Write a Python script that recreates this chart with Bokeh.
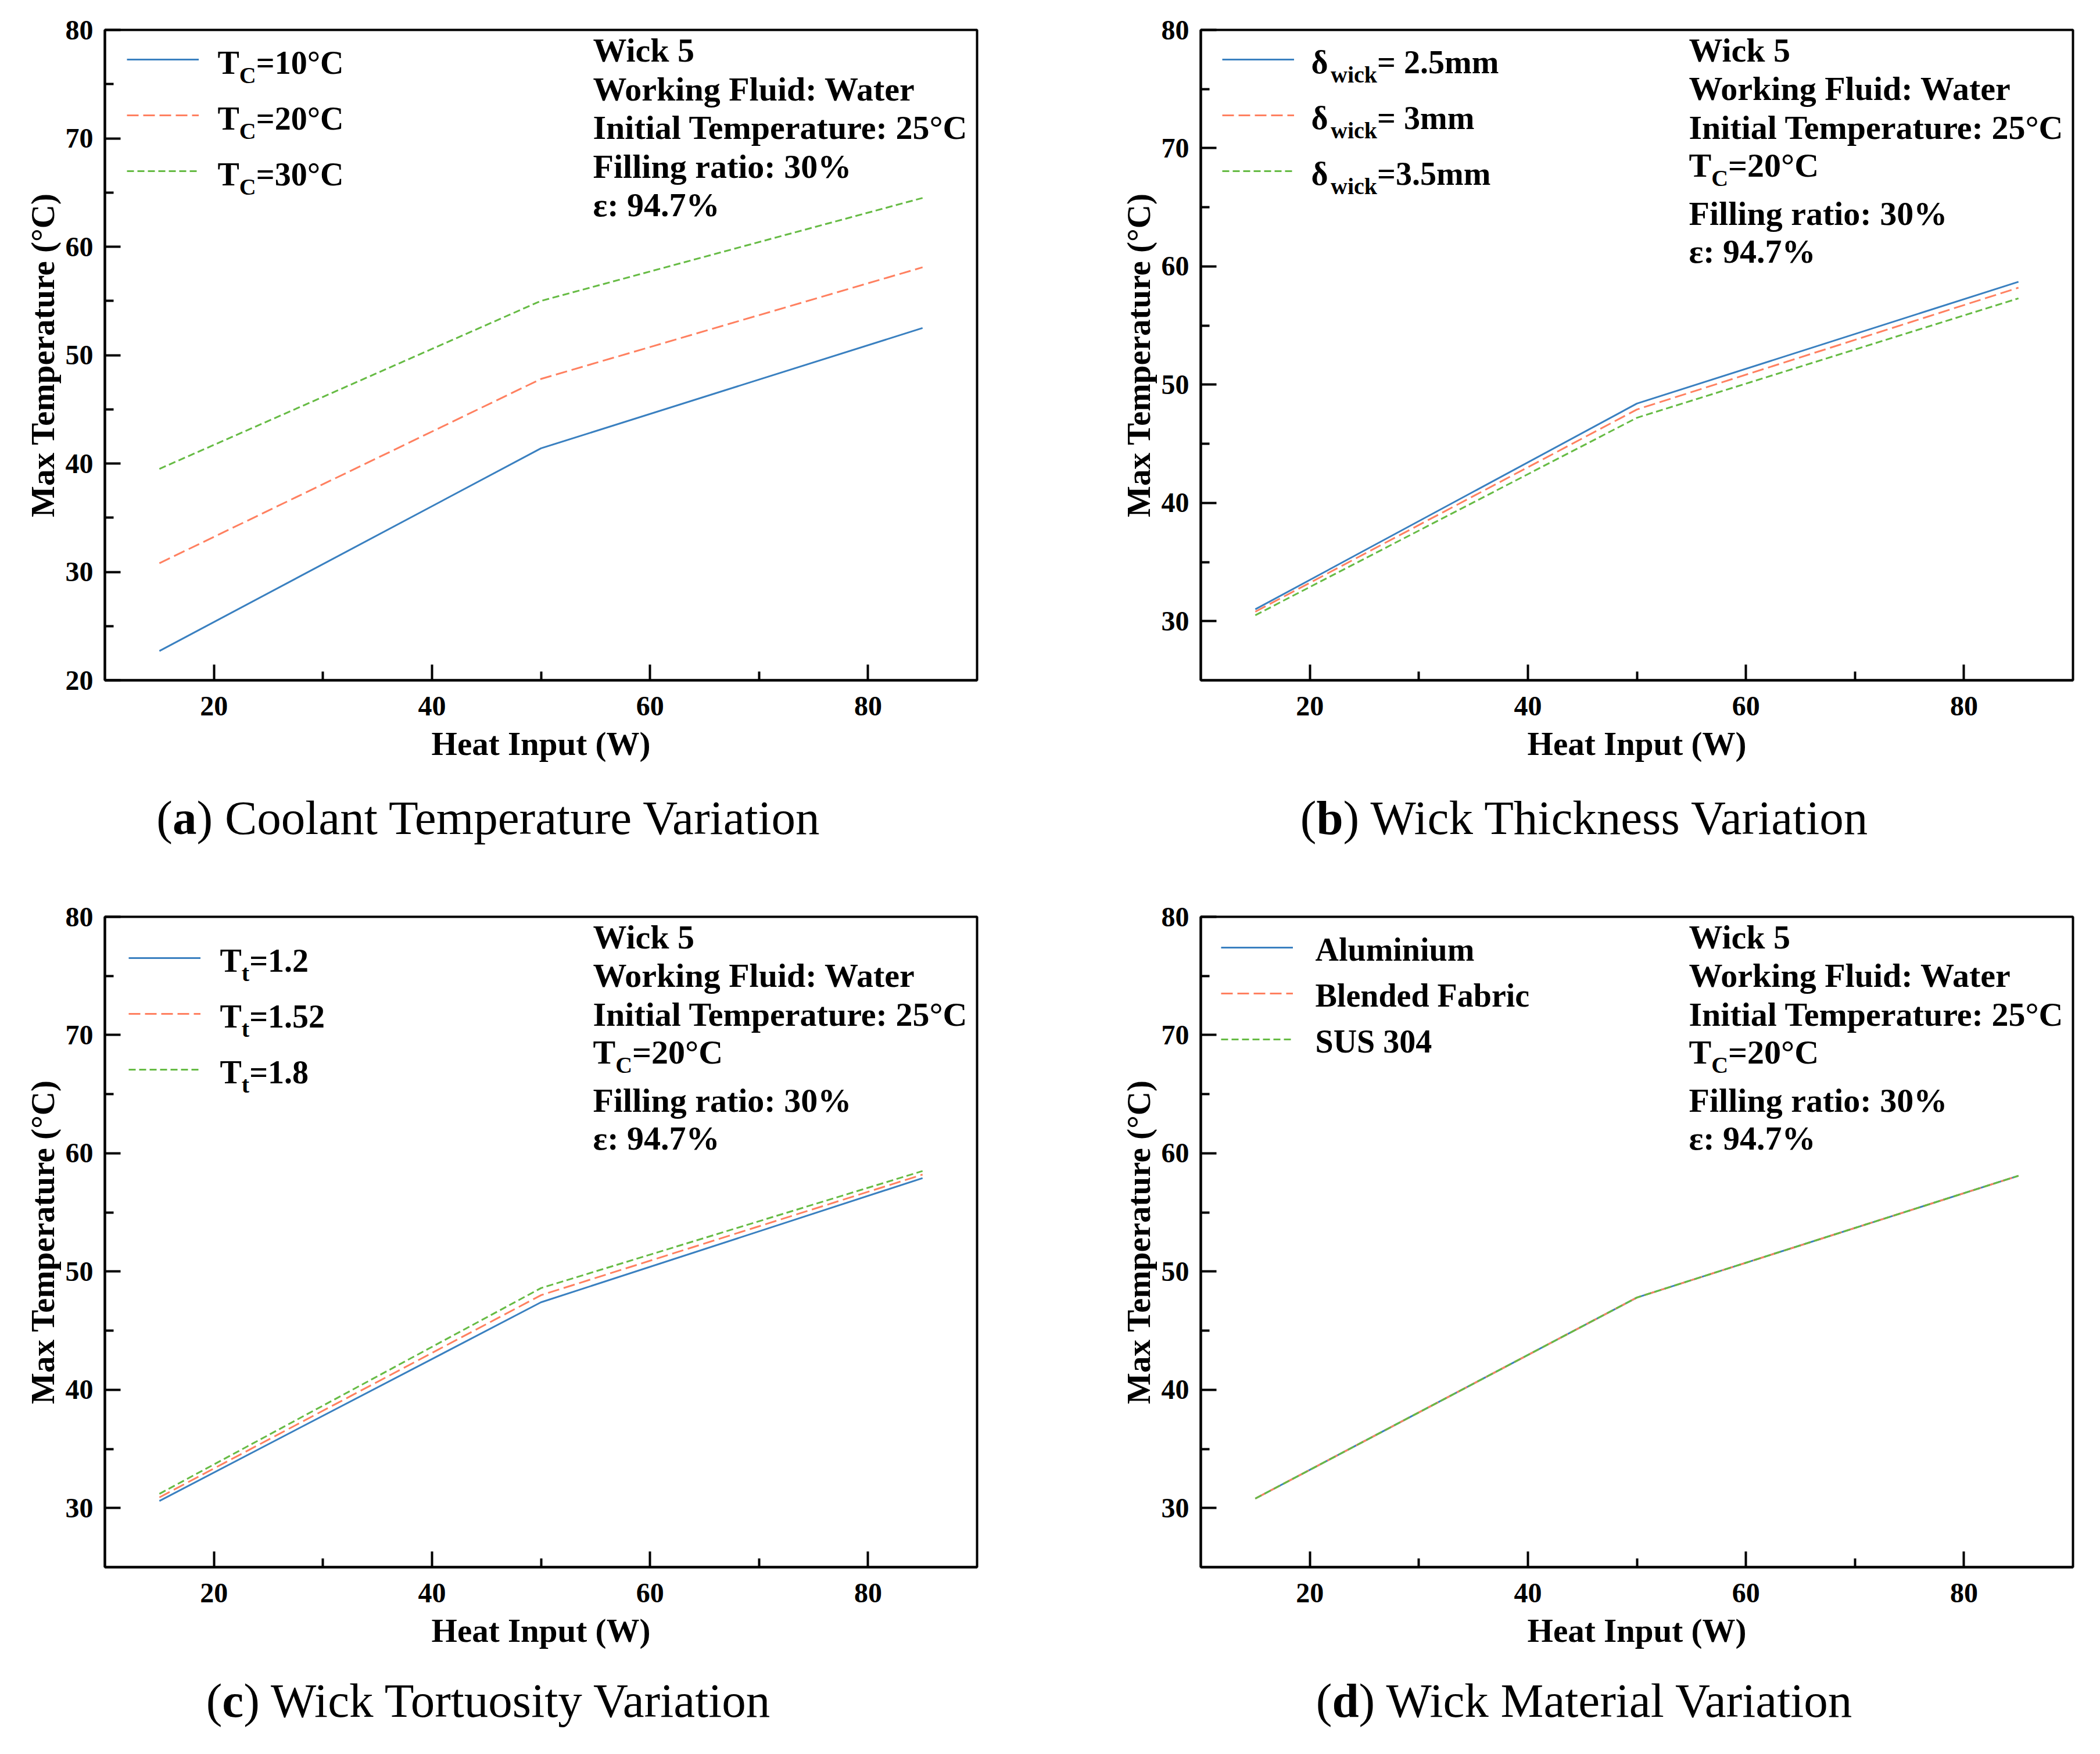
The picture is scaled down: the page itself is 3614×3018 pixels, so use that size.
from bokeh.plotting import figure
from bokeh.models import Range1d, FixedTicker, Label, Legend, LegendItem, Div
from bokeh.layouts import row, column
from bokeh.embed import file_html
from bokeh.resources import INLINE

# ---------------- data ----------------
heat_input = [15, 50, 85]

# (a) coolant temperature
tc_10 = [22.7, 41.4, 52.5]
tc_20 = [30.8, 47.8, 58.1]
tc_30 = [39.5, 55.0, 64.5]

# (b) wick thickness
thick_25 = [31.0, 48.4, 58.7]
thick_30 = [30.8, 47.9, 58.2]
thick_35 = [30.5, 47.2, 57.3]

# (c) tortuosity
tort_12 = [30.6, 47.4, 57.9]
tort_152 = [30.9, 48.0, 58.2]
tort_18 = [31.2, 48.6, 58.5]

# (d) material
mat_al = [30.8, 47.8, 58.1]
mat_bf = [30.8, 47.8, 58.1]
mat_sus = [30.8, 47.8, 58.1]

x_ticks = [20, 40, 60, 80]
x_minor = [30, 50, 70]
y_ticks_a = [20, 30, 40, 50, 60, 70, 80]
y_minor_a = [25, 35, 45, 55, 65, 75]
y_ticks_b = [30, 40, 50, 60, 70, 80]
y_minor_b = [35, 45, 55, 65, 75]

legend_a = [[("T", 0), ("C", 1), ("=10°C", 0)],
            [("T", 0), ("C", 1), ("=20°C", 0)],
            [("T", 0), ("C", 1), ("=30°C", 0)]]
legend_b = [[("δ", 0), ("wick", 1), ("= 2.5mm", 0)],
            [("δ", 0), ("wick", 1), ("= 3mm", 0)],
            [("δ", 0), ("wick", 1), ("=3.5mm", 0)]]
legend_c = [[("T", 0), ("t", 1), ("=1.2", 0)],
            [("T", 0), ("t", 1), ("=1.52", 0)],
            [("T", 0), ("t", 1), ("=1.8", 0)]]
legend_d = [[("Aluminium", 0)], [("Blended Fabric", 0)], [("SUS 304", 0)]]

info_a = [[("Wick 5", 0)], [("Working Fluid: Water", 0)],
          [("Initial Temperature: 25°C", 0)], [("Filling ratio: 30%", 0)],
          [("ε: 94.7%", 0)]]
info_bcd = [[("Wick 5", 0)], [("Working Fluid: Water", 0)],
            [("Initial Temperature: 25°C", 0)],
            [("T", 0), ("C", 1), ("=20°C", 0)],
            [("Filling ratio: 30%", 0)], [("ε: 94.7%", 0)]]

captions = [("a", "Coolant Temperature Variation"),
            ("b", "Wick Thickness Variation"),
            ("c", "Wick Tortuosity Variation"),
            ("d", "Wick Material Variation")]

x_label = "Heat Input (W)"
y_label = "Max Temperature (°C)"

# ---------------- style ----------------
FONT = "Liberation Serif"
BLUE, ORANGE, GREEN = "#3a80c0", "#ff8060", "#66bb44"
STYLES = [(BLUE, "solid"), (ORANGE, "20 8"), (GREEN, "12 6")]
FW, FH = 1501, 1119
BL, BT, BB = 173, 44, 160
LEG_TXT = 56
INFO_TXT = 58
SUB = 40
SUB_DROP = 22
BASE_FIX = 17   # raise text baselines

ADV = {"T": 667, "δ": 600, "C": 722, "wick": 2000, "t": 333}


def adv(s):
    return ADV.get(s, 500 * len(s))


def make_fig(width, right, ymin, yt, ym):
    p = figure(width=width, height=BT + FH + BB,
               x_range=Range1d(10, 90), y_range=Range1d(ymin, 80),
               output_backend="svg", toolbar_location=None,
               min_border_left=BL, min_border_right=right,
               min_border_top=BT, min_border_bottom=BB)
    p.grid.visible = False
    p.outline_line_color = "black"
    p.outline_line_width = 4
    p.outline_line_alpha = 1
    p.xaxis.ticker = FixedTicker(ticks=x_ticks, minor_ticks=x_minor)
    p.yaxis.ticker = FixedTicker(ticks=yt, minor_ticks=ym)
    p.xaxis.axis_label = x_label
    p.yaxis.axis_label = y_label
    for ax in (p.xaxis, p.yaxis):
        ax.axis_line_width = 4
        ax.axis_line_color = "black"
        ax.major_tick_in = 27
        ax.major_tick_out = 0
        ax.minor_tick_in = 15
        ax.minor_tick_out = 0
        ax.major_tick_line_width = 4
        ax.minor_tick_line_width = 4
        ax.major_label_text_font = FONT
        ax.major_label_text_font_size = "48px"
        ax.major_label_text_font_style = "bold"
        ax.major_label_text_color = "black"
        ax.axis_label_text_font = FONT
        ax.axis_label_text_font_size = "57px"
        ax.axis_label_text_font_style = "bold"
        ax.axis_label_text_color = "black"
    p.xaxis.major_label_standoff = 28
    p.xaxis.axis_label_standoff = 14
    p.yaxis.major_label_standoff = 20
    p.yaxis.axis_label_standoff = 5
    return p


def put_text(p, x, base, segs, size):
    cx = x
    for txt, sub in segs:
        fs = SUB if sub else size
        y = FH - base + BASE_FIX - (SUB_DROP if sub else 0)
        p.add_layout(Label(x=cx, y=y, x_units="screen", y_units="screen",
                           text=txt, text_font=FONT, text_font_size=f"{fs}px",
                           text_font_style="bold", text_color="black",
                           text_baseline="alphabetic", text_align="left"))
        cx += adv(txt) * fs / 1000.0


def add_legend(p, rends, x, y0, step):
    gh = 20
    sp = int(step - gh)
    n = len(rends)
    h = n * gh + (n - 1) * sp
    top = y0 - gh / 2
    leg = Legend(items=[LegendItem(label=" ", renderers=[r]) for r in rends],
                 location=(x, FH - top - h), glyph_width=124, glyph_height=gh,
                 label_height=gh, label_width=1,
                 spacing=sp, padding=0, margin=0, label_standoff=0,
                 label_text_font_size="1px",
                 border_line_alpha=0, background_fill_alpha=0)
    p.add_layout(leg)


def panel(width, right, ymin, yt, ym, series, leg_cfg, leg_txt, txt_cfg, info, info_bases):
    p = make_fig(width, right, ymin, yt, ym)
    rends = []
    for s, (c, d) in zip(series, STYLES):
        rends.append(p.line(heat_input, s, line_color=c, line_width=3, line_dash=d))
    lx, ly, lstep = leg_cfg
    add_legend(p, rends, lx, ly, lstep)
    tx, tb, tstep = txt_cfg
    for i, segs in enumerate(leg_txt):
        put_text(p, tx, tb + tstep * i, segs, LEG_TXT)
    for segs, b in zip(info, info_bases):
        put_text(p, 840, b, segs, INFO_TXT)
    return p


def caption(letter, text, h, top):
    html = (f'<div style="font-family:\'{FONT}\';font-size:83px;line-height:98px;'
            f'text-align:center;width:1666px;color:black;white-space:nowrap">'
            f'(<b>{letter}</b>) {text}</div>')
    return Div(text=html, width=1666, height=h, margin=(top, 0, 0, 0))


bases_a = [52, 118.5, 185, 251.5, 318]
bases_bcd = [52, 118, 185, 250, 333, 398]

WA, RA = 1886, 212
WB, RB = 1704, 30

pa = panel(WA, RA, 20, y_ticks_a, y_minor_a, [tc_10, tc_20, tc_30],
           (38, 51, 96), legend_a, (194, 73, 96), info_a, bases_a)
pb = panel(WB, RB, 25, y_ticks_b, y_minor_b, [thick_25, thick_30, thick_35],
           (37, 51, 96), legend_b, (190, 72, 96), info_bcd, bases_bcd)
pc = panel(WA, RA, 25, y_ticks_b, y_minor_b, [tort_12, tort_152, tort_18],
           (41, 71, 96), legend_c, (198, 92, 96), info_bcd, bases_bcd)
pd = panel(WB, RB, 25, y_ticks_b, y_minor_b, [mat_al, mat_bf, mat_sus],
           (35, 53, 79), legend_d, (197, 73, 79), info_bcd, bases_bcd)

ca = caption(*captions[0], 175, 28)
cb = caption(*captions[1], 175, 28)
cc = caption(*captions[2], 118, 21)
cd = caption(*captions[3], 118, 21)

layout = column(
    row(column(pa, ca, spacing=0), column(pb, cb, spacing=0), spacing=0),
    row(column(pc, cc, spacing=0), column(pd, cd, spacing=0), spacing=0),
    spacing=0, margin=(7, 0, 0, 7))

open("out.html", "w").write(file_html(layout, INLINE))
